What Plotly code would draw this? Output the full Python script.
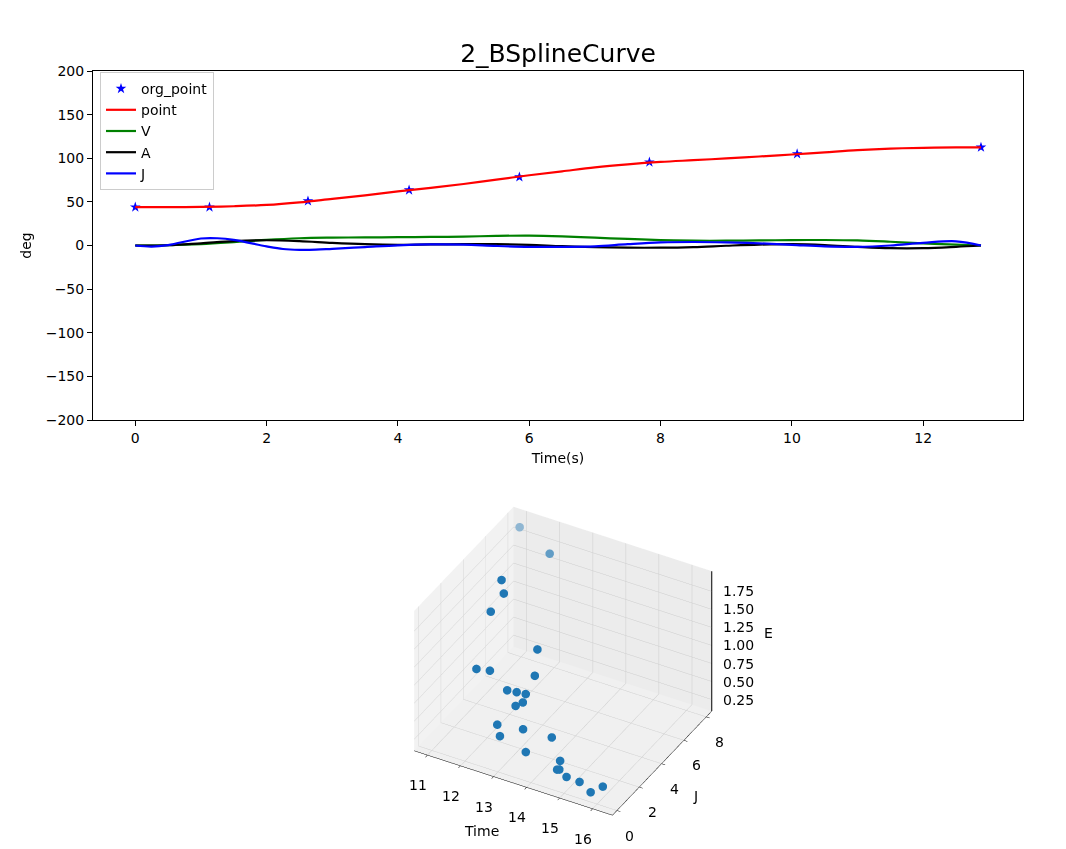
import plotly.graph_objects as go
import numpy as np

# ---------------- top chart data ----------------
org_t = [0.0, 1.13, 2.63, 4.17, 5.85, 7.83, 10.08, 12.88]
org_deg = [44.0, 44.0, 51.0, 63.5, 78.5, 95.5, 105.0, 112.5]

curve_t = [0.0, 0.5, 1.0, 1.5, 2.0, 2.5, 3.0, 3.5, 4.0, 4.5, 5.0, 5.5, 6.0, 6.5,
           7.0, 7.5, 8.0, 8.5, 9.0, 9.5, 10.0, 10.5, 11.0, 11.5, 12.0, 12.5, 12.88]
point_deg = [44.0, 44.0, 44.2, 45.0, 46.5, 49.5, 53.5, 57.5, 62.0, 66.0, 70.5, 75.5, 80.5, 85.0,
             89.5, 93.0, 95.8, 97.8, 99.8, 102.0, 104.3, 106.8, 109.3, 111.0, 112.0, 112.5, 112.5]
V_vals = [0.0, 0.3, 1.5, 3.8, 6.5, 8.3, 9.0, 9.3, 9.5, 9.8, 10.2, 11.0, 11.3, 10.5,
          9.0, 7.5, 6.2, 5.5, 5.5, 5.8, 6.2, 6.3, 5.8, 4.3, 2.5, 0.9, 0.0]
A_vals = [0.0, 0.3, 2.5, 5.0, 6.0, 5.0, 3.0, 1.5, 0.8, 1.2, 1.5, 1.5, 0.8, -0.8,
          -1.8, -2.5, -2.5, -1.8, -0.3, 1.0, 1.5, 0.5, -1.5, -3.0, -3.0, -1.5, 0.0]
J_vals = [0.0, 0.5, 8.0, 6.5, -1.0, -5.0, -3.8, -1.8, 0.2, 1.2, 1.0, -0.5, -1.5, -1.5,
          -1.0, 1.5, 3.5, 4.0, 3.5, 2.5, 0.8, -1.0, -1.5, 0.0, 3.0, 4.8, 0.0]
J_extra_t = [0.25, 1.25, 2.25, 2.75]
J_extra_v = [-1.2, 8.3, -4.0, -4.8]

x_ticks = [0, 2, 4, 6, 8, 10, 12]
y_ticks = [-200, -150, -100, -50, 0, 50, 100, 150, 200]

# ---------------- 3D scatter data ----------------
sc_time = [10.9, 11.86, 11.17, 11.36, 11.14, 12.59, 11.15, 11.5, 12.65, 12.03, 12.29, 12.54, 12.41,
           12.5, 12.24, 12.5, 13.0, 13.94, 13.36, 14.49, 14.47, 14.52, 14.85, 15.26, 15.68, 15.9]
sc_J = [8.15, 8.0, 5.73, 5.37, 4.85, 4.74, 3.54, 3.71, 4.33, 3.69, 3.77, 3.84, 3.32,
        3.7, 2.18, 1.65, 2.24, 2.03, 1.42, 1.15, 0.94, 0.99, 0.66, 0.61, 0.36, 0.8]
sc_E = [1.85, 1.65, 1.55, 1.45, 1.25, 0.96, 0.67, 0.67, 0.67, 0.48, 0.48, 0.48, 0.38,
        0.38, 0.28, 0.245, 0.32, 0.38, 0.19, 0.28, 0.19, 0.19, 0.19, 0.19, 0.15, 0.19]

time_ticks = [11, 12, 13, 14, 15, 16]
j_ticks = [0, 2, 4, 6, 8]
e_ticks = [0.25, 0.5, 0.75, 1.0, 1.25, 1.5, 1.75]
e_labels = ["0.25", "0.50", "0.75", "1.00", "1.25", "1.50", "1.75"]

T_RANGE = [10.6, 16.6]
J_RANGE = [-0.4, 8.5]
E_RANGE = [0.09, 2.03]

FONT = "DejaVu Sans"
W, H = 1066, 849

fig = go.Figure()

jt = list(curve_t) + J_extra_t
jv = list(J_vals) + J_extra_v
order = np.argsort(jt)
jt = [jt[i] for i in order]
jv = [jv[i] for i in order]

fig.add_trace(go.Scatter(x=org_t, y=org_deg, mode="markers", name="org_point",
                         marker=dict(symbol="star", color="blue", size=8, line=dict(width=0))))
fig.add_trace(go.Scatter(x=curve_t, y=point_deg, mode="lines", name="point",
                         line=dict(color="red", width=2.2, shape="spline", smoothing=1.0)))
fig.add_trace(go.Scatter(x=curve_t, y=V_vals, mode="lines", name="V",
                         line=dict(color="green", width=2.2, shape="spline", smoothing=1.0)))
fig.add_trace(go.Scatter(x=curve_t, y=A_vals, mode="lines", name="A",
                         line=dict(color="black", width=2.2, shape="spline", smoothing=1.0)))
fig.add_trace(go.Scatter(x=jt, y=jv, mode="lines", name="J",
                         line=dict(color="blue", width=2.2, shape="spline", smoothing=1.0)))

# depth shading like matplotlib (far points lighter)
xs = (np.array(sc_time) - T_RANGE[0]) / (T_RANGE[1] - T_RANGE[0]) * 4
ys = (np.array(sc_J) - J_RANGE[0]) / (J_RANGE[1] - J_RANGE[0]) * 4
zs = (np.array(sc_E) - E_RANGE[0]) / (E_RANGE[1] - E_RANGE[0]) * 3
near = xs * 0.433 - ys * 0.75 + zs * 0.5
far = np.clip((-1.0 - near) / (-1.0 - near.min()), 0, 1)
alpha = 1 - 0.55 * far
base = np.array([31, 119, 180])
bg = np.array([235, 235, 235])
cols = ["rgb(%d,%d,%d)" % tuple((base * a + bg * (1 - a)).astype(int)) for a in alpha]

fig.add_trace(go.Scatter3d(x=sc_time, y=sc_J, z=sc_E, mode="markers", showlegend=False,
                           marker=dict(size=5, color=cols, line=dict(width=0)), scene="scene"))
# vertical E axis spine at the back-right corner (as matplotlib draws it)
fig.add_trace(go.Scatter3d(x=[T_RANGE[1], T_RANGE[1]], y=[J_RANGE[1], J_RANGE[1]], z=E_RANGE,
                           mode="lines", line=dict(color="black", width=2), showlegend=False,
                           hoverinfo="skip", scene="scene"))

ax3 = dict(showbackground=True, gridcolor="rgb(205,205,205)", gridwidth=1,
           zeroline=False, showspikes=False, showline=True, linecolor="black", linewidth=1,
           ticks="outside", ticklen=4, tickcolor="black", showticklabels=False,
           title=dict(text=""))

# tick labels / titles placed as scene annotations (upright text like matplotlib)
tf = dict(family=FONT, size=14, color="black")
ann = []
for t in time_ticks:
    ann.append(dict(x=t, y=J_RANGE[0], z=E_RANGE[0], text=str(t), xshift=-9, yshift=-30))
for j in j_ticks:
    ann.append(dict(x=T_RANGE[1], y=j, z=E_RANGE[0], text=str(j), xshift=13, yshift=-25))
for e, lab in zip(e_ticks, e_labels):
    ann.append(dict(x=T_RANGE[1], y=J_RANGE[1], z=e, text=lab, xanchor="left", xshift=9))
ann.append(dict(x=(T_RANGE[0] + T_RANGE[1]) / 2, y=J_RANGE[0], z=E_RANGE[0], text="Time",
                xshift=-32, yshift=-48))
ann.append(dict(x=T_RANGE[1], y=(J_RANGE[0] + J_RANGE[1]) / 2, z=E_RANGE[0], text="J",
                xshift=33, yshift=-33))
ann.append(dict(x=T_RANGE[1], y=J_RANGE[1], z=(E_RANGE[0] + E_RANGE[1]) / 2, text="E",
                xshift=57, yshift=8))
for a in ann:
    a.update(showarrow=False, font=tf)
    a.setdefault("xanchor", "center")

el = np.radians(35.7)
az = np.radians(-60.9)
k = 2.0
fig.update_layout(
    width=W, height=H, margin=dict(l=0, r=0, t=0, b=0, autoexpand=False),
    paper_bgcolor="white", plot_bgcolor="white",
    font=dict(family=FONT, size=14, color="black"),
    showlegend=True, hovermode=False,
    title=dict(text="2_BSplineCurve", x=558 / W, xanchor="center", xref="paper",
               y=1 - 53 / H, yanchor="middle", yref="paper", automargin=False,
               font=dict(family=FONT, size=25, color="black")),
    xaxis=dict(domain=[93 / W, 1023 / W], range=[-0.644, 13.52], tickvals=x_ticks,
               showline=True, linecolor="black", linewidth=1, mirror=True,
               ticks="outside", ticklen=5, tickwidth=1, tickcolor="black",
               showgrid=False, zeroline=False, automargin=False,
               title=dict(text="Time(s)", standoff=8, font=dict(size=14)),
               anchor="y"),
    yaxis=dict(domain=[1 - 420 / H, 1 - 71 / H], range=[-200, 200], tickvals=y_ticks,
               showline=True, linecolor="black", linewidth=1, mirror=True,
               ticks="outside", ticklen=5, tickwidth=1, tickcolor="black",
               showgrid=False, zeroline=False, automargin=False,
               title=dict(text="deg", standoff=10, font=dict(size=14)),
               anchor="x"),
    legend=dict(x=100 / W, y=1 - 72 / H, xanchor="left", yanchor="top",
                bgcolor="rgba(255,255,255,0.8)", bordercolor="#cccccc", borderwidth=1,
                font=dict(family=FONT, size=14), itemwidth=30),
    scene=dict(
        domain=dict(x=[0.253, 0.803], y=[0.0164, 0.4264]),
        xaxis=dict(ax3, range=T_RANGE, tickvals=time_ticks,
                   backgroundcolor="rgb(242,242,242)"),
        yaxis=dict(ax3, range=J_RANGE, tickvals=j_ticks,
                   backgroundcolor="rgb(236,236,236)"),
        zaxis=dict(ax3, range=E_RANGE, tickvals=e_ticks, showline=False, ticks="",
                   backgroundcolor="rgb(240,240,240)"),
        aspectmode="manual", aspectratio=dict(x=1.304, y=1.174, z=0.99),
        camera=dict(eye=dict(x=k * np.cos(el) * np.cos(az), y=k * np.cos(el) * np.sin(az),
                             z=k * np.sin(el)),
                    center=dict(x=0, y=0, z=0), up=dict(x=0, y=0, z=1),
                    projection=dict(type="orthographic")),
        annotations=ann,
    ),
)

fig.write_html("out.html")
